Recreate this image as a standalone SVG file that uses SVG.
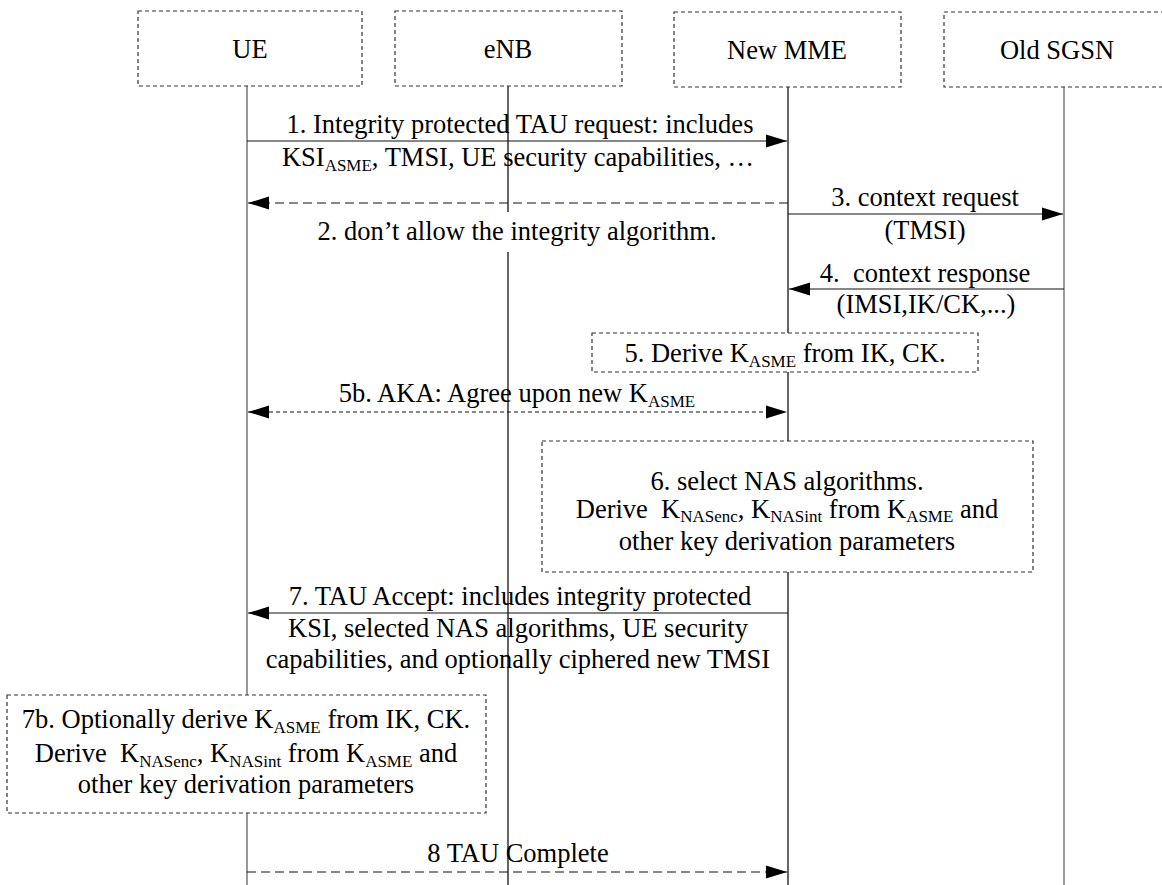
<svg xmlns="http://www.w3.org/2000/svg" width="1162" height="885" viewBox="0 0 1162 885">
  <defs>
    <style>
      .box{fill:#fff;stroke:#333;stroke-width:1.2;stroke-dasharray:4 3}
      .life{stroke:#000;stroke-width:1.2;fill:none}
      .grey{stroke:#555}
      .msg{stroke:#111;stroke-width:1.2;fill:none;marker-end:url(#head)}
      .both{marker-start:url(#head)}
      .dash{stroke-dasharray:9 5}
      .dot{stroke-dasharray:4 3}
      text{font-family:"Liberation Serif","Times New Roman",serif;font-size:26.5px;fill:#000;text-anchor:middle}
      .sub{font-size:17px}
    </style>
    <marker id="head" markerUnits="userSpaceOnUse" markerWidth="22" markerHeight="14" refX="21" refY="6.5" orient="auto-start-reverse" overflow="visible">
      <path d="M0,0 L21,6.5 L0,13 z" fill="#000"/>
    </marker>
  </defs>
  <rect width="1162" height="885" fill="#fff"/>

  <!-- participants with their lifelines -->
  <g id="ue">
    <path class="life grey" d="M247,86 V695 M247,813 V885"/>
    <rect class="box" x="138" y="11" width="224" height="75"/>
    <text x="250" y="58">UE</text>
  </g>
  <g id="enb">
    <path class="life" d="M508,86 V212 M508,252 V885"/>
    <rect class="box" x="395" y="11" width="227" height="75"/>
    <text x="508" y="58">eNB</text>
  </g>
  <g id="new-mme">
    <path class="life" d="M788,87 V333 M788,372 V441 M788,572 V885"/>
    <rect class="box" x="674" y="12" width="227" height="75"/>
    <text x="787" y="59">New MME</text>
  </g>
  <g id="old-sgsn">
    <path class="life grey" d="M1064,87 V885"/>
    <rect class="box" x="944" y="12" width="226" height="75"/>
    <text x="1057" y="59">Old SGSN</text>
  </g>

  <!-- local processing steps -->
  <g id="step5">
    <rect class="box" x="592" y="333" width="386" height="39"/>
    <text x="785" y="362">5. Derive K<tspan class="sub" dy="5">ASME</tspan><tspan dy="-5"> from IK, CK.</tspan></text>
  </g>
  <g id="step6">
    <rect class="box" x="542" y="441" width="491" height="131"/>
    <text x="787" y="490">6. select NAS algorithms.</text>
    <text x="787" y="518" xml:space="preserve">Derive  K<tspan class="sub" dy="4">NASenc</tspan><tspan dy="-4">, K</tspan><tspan class="sub" dy="4">NASint</tspan><tspan dy="-4"> from K</tspan><tspan class="sub" dy="4">ASME</tspan><tspan dy="-4"> and</tspan></text>
    <text x="787" y="550">other key derivation parameters</text>
  </g>
  <g id="step7b">
    <rect class="box" x="7" y="695" width="479" height="118"/>
    <text x="246" y="728">7b. Optionally derive K<tspan class="sub" dy="5">ASME</tspan><tspan dy="-5"> from IK, CK.</tspan></text>
    <text x="246" y="762" xml:space="preserve">Derive  K<tspan class="sub" dy="5">NASenc</tspan><tspan dy="-5">, K</tspan><tspan class="sub" dy="5">NASint</tspan><tspan dy="-5"> from K</tspan><tspan class="sub" dy="5">ASME</tspan><tspan dy="-5"> and</tspan></text>
    <text x="246" y="793">other key derivation parameters</text>
  </g>

  <!-- messages -->
  <g id="connectors">
    <line class="msg" x1="247" y1="141" x2="787" y2="141"/>
    <text x="520" y="133">1. Integrity protected TAU request: includes</text>
    <text x="518" y="166">KSI<tspan class="sub" dy="5">ASME</tspan><tspan dy="-5">, TMSI, UE security capabilities, …</tspan></text>

    <line class="msg dash" x1="788" y1="203" x2="248" y2="203"/>
    <text x="517" y="240">2. don’t allow the integrity algorithm.</text>

    <line class="msg" x1="788" y1="214" x2="1063" y2="214"/>
    <text x="925" y="206">3. context request</text>
    <text x="925" y="239">(TMSI)</text>

    <line class="msg" x1="1064" y1="289" x2="789" y2="289"/>
    <text x="925" y="282" xml:space="preserve">4.  context response</text>
    <text x="926" y="313">(IMSI,IK/CK,...)</text>

    <line class="msg both dot" x1="248" y1="412" x2="787" y2="412"/>
    <text x="517" y="402">5b. AKA: Agree upon new K<tspan class="sub" dy="5">ASME</tspan></text>

    <line class="msg" x1="788" y1="613" x2="248" y2="613"/>
    <text x="520" y="605">7. TAU Accept: includes integrity protected</text>
    <text x="518" y="637">KSI, selected NAS algorithms, UE security</text>
    <text x="518" y="668">capabilities, and optionally ciphered new TMSI</text>

    <line class="msg dash" x1="247" y1="872" x2="787" y2="872"/>
    <text x="518" y="862">8 TAU Complete</text>
  </g>
</svg>
